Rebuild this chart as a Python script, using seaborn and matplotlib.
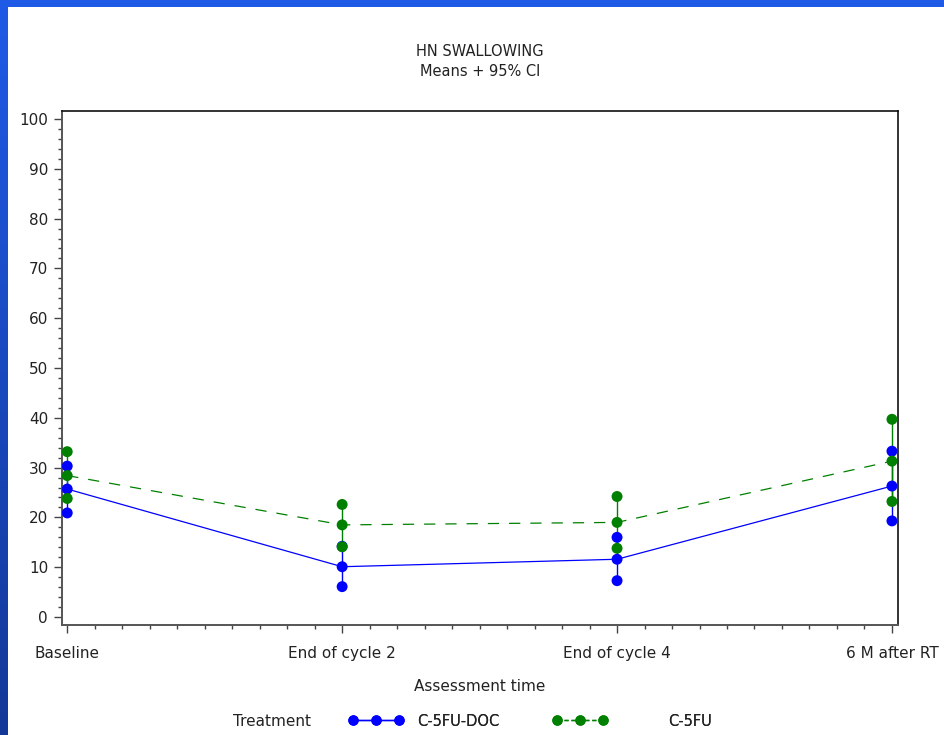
import numpy as np
import pandas as pd
import matplotlib
matplotlib.use("Agg")
import matplotlib.pyplot as plt
from matplotlib.ticker import MultipleLocator, AutoMinorLocator
from matplotlib.lines import Line2D
import seaborn as sns

# Assessment times and per-arm means with 95% confidence limits
times = ["Baseline", "End of cycle 2", "End of cycle 4", "6 M after RT"]
doc_mean = [25.7, 10.1, 11.6, 26.3]
doc_lower = [20.9, 6.1, 7.3, 19.3]
doc_upper = [30.3, 14.2, 16.0, 33.3]
fu_mean = [28.4, 18.5, 19.0, 31.3]
fu_lower = [23.8, 14.1, 13.8, 23.2]
fu_upper = [33.2, 22.6, 24.2, 39.7]
arms = ["C-5FU-DOC", "C-5FU"]
arm_colors = {"C-5FU-DOC": "#0000ff", "C-5FU": "#008000"}
arm_dashes = {"C-5FU-DOC": "", "C-5FU": (9, 8)}

rows = []
for arm, m, lo, hi in [("C-5FU-DOC", doc_mean, doc_lower, doc_upper),
                       ("C-5FU", fu_mean, fu_lower, fu_upper)]:
    for i, t in enumerate(times):
        rows.append({"pos": i, "time": t, "arm": arm,
                     "mean": m[i], "lower": lo[i], "upper": hi[i]})
df = pd.DataFrame(rows)

sns.set_theme(style="white")
plt.rcParams["font.family"] = ["DejaVu Sans"]

W, H = 944, 735
fig = plt.figure(figsize=(W / 100, H / 100), dpi=100)
ax = fig.add_axes([62 / W, 1 - 625 / H, (898 - 62) / W, (625 - 111) / H])

# Mean profiles
sns.lineplot(data=df, x="pos", y="mean", hue="arm", style="arm",
             palette=arm_colors, dashes=arm_dashes, hue_order=arms,
             style_order=arms, linewidth=0.9, legend=False, ax=ax,
             zorder=2)

# Confidence bars with endpoint and mean markers
for arm in arms:
    sub = df[df["arm"] == arm]
    c = arm_colors[arm]
    ax.vlines(sub["pos"], sub["lower"], sub["upper"], color=c,
              linewidth=1.0, zorder=3)
    long = pd.concat([
        pd.DataFrame({"pos": sub["pos"], "val": sub[col]})
        for col in ["lower", "mean", "upper"]
    ])
    sns.scatterplot(data=long, x="pos", y="val", color=c, s=62,
                    edgecolor="none", ax=ax, zorder=4, legend=False)

ax.set_xlim(-0.019, 3.022)
ax.set_ylim(-1.6, 101.6)
ax.set_xticks(range(len(times)))
ax.set_xticklabels(times)
ax.xaxis.set_minor_locator(AutoMinorLocator(10))
ax.yaxis.set_major_locator(MultipleLocator(10))
ax.yaxis.set_minor_locator(MultipleLocator(2))
ax.tick_params(axis="both", which="major", direction="out", length=6,
               width=1, color="#444444", labelsize=11, labelcolor="#222222")
ax.tick_params(axis="both", which="minor", direction="out", length=3,
               width=1, color="#444444")
ax.tick_params(axis="x", which="major", pad=9)
ax.tick_params(axis="y", which="major", pad=4)
ax.tick_params(bottom=True, left=True, which="both")
for side in ["top", "right"]:
    ax.spines[side].set_color("#111111")
    ax.spines[side].set_linewidth(1.2)
for side in ["left", "bottom"]:
    ax.spines[side].set_color("#555555")
    ax.spines[side].set_linewidth(1.4)
ax.set_xlabel("Assessment time", fontsize=11, color="#222222", labelpad=13)
ax.set_ylabel("")

fig.text(480 / W, 1 - 52 / H, "HN SWALLOWING", ha="center", va="center",
         fontsize=10.5, color="#222222")
fig.text(480 / W, 1 - 72 / H, "Means + 95% CI", ha="center", va="center",
         fontsize=10.5, color="#222222")

# Legend row
fig.text(233 / W, 1 - 721 / H, "Treatment", ha="left", va="center",
         fontsize=11, color="#222222")
for arm, x0, pad in [("C-5FU-DOC", 349, 1.0), ("C-5FU", 553, 4.2)]:
    c = arm_colors[arm]
    h = Line2D([], [], color=c, marker="o", markersize=7.5,
               markeredgewidth=0,
               linestyle="-" if arm == "C-5FU-DOC" else (0, (3, 2)),
               linewidth=1.0)
    leg = fig.legend([h], [arm], loc="center left",
                     bbox_to_anchor=(x0 / W, 1 - 721 / H), frameon=False,
                     numpoints=3, handlelength=3.7, handletextpad=pad,
                     borderpad=0, borderaxespad=0, fontsize=10.5)
    for t in leg.get_texts():
        t.set_color("#222222")
    fig.add_artist(leg)

# Blue frame along the top and left edges
top = fig.add_axes([0, 1 - 7 / H, 1, 7 / H])
top.imshow(np.ones((1, 2, 3)) * np.array([0x1f, 0x5a, 0xe6]) / 255,
           aspect="auto", extent=(0, 1, 0, 1))
top.set_axis_off()
left = fig.add_axes([0, 0, 8 / W, 1 - 7 / H])
grad = np.linspace(0, 1, 256)[:, None, None]
c_top = np.array([0x1f, 0x5a, 0xe6]) / 255
c_bot = np.array([0x14, 0x38, 0x98]) / 255
left.imshow(c_top * (1 - grad) + c_bot * grad, aspect="auto",
            extent=(0, 1, 0, 1))
left.set_axis_off()

fig.savefig("out.png", dpi=100, facecolor="white")
